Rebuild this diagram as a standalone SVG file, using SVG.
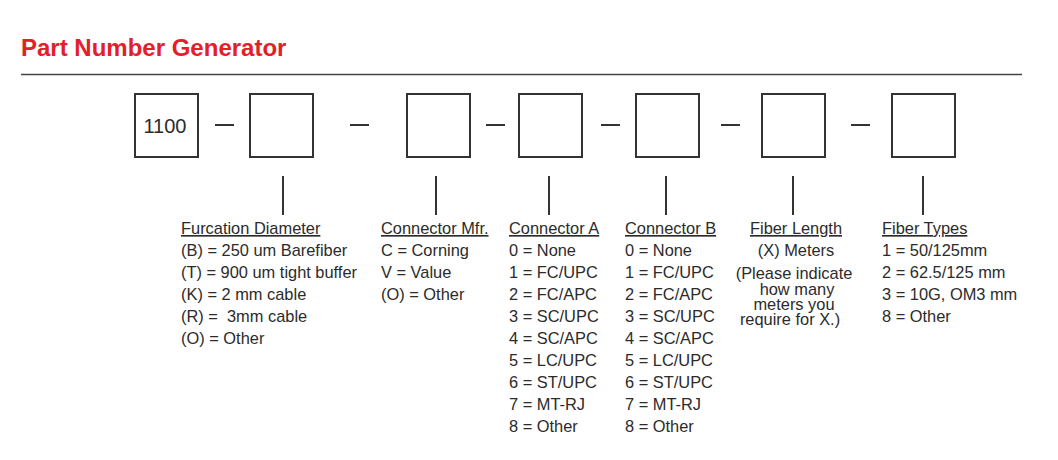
<svg xmlns="http://www.w3.org/2000/svg" width="1058" height="460" viewBox="0 0 1058 460">
<style>
.title{font-family:"Liberation Sans",Arial,sans-serif;font-weight:bold;font-size:24px;fill:#E3202A}
.box{fill:#fff;stroke:#333;stroke-width:2}
.ln{stroke:#333;stroke-width:2;fill:none}
.rule{stroke:#444;stroke-width:1.3}
.t{font-family:"Liberation Sans",Arial,sans-serif;font-size:16.4px;fill:#2b2b2b}
.h{text-decoration:underline}
.big{font-family:"Liberation Sans",Arial,sans-serif;font-size:20px;fill:#2b2b2b}
.c{text-anchor:middle}
</style>
<rect width="1058" height="460" fill="#fff"/>
<text class="title" x="21" y="56">Part Number Generator</text>
<line class="rule" x1="21" y1="74.5" x2="1022" y2="74.5"/>

<g id="connectors">
<line class="ln" x1="215" y1="125" x2="234" y2="125"/>
<line class="ln" x1="350" y1="125" x2="369" y2="125"/>
<line class="ln" x1="486" y1="125" x2="505" y2="125"/>
<line class="ln" x1="601" y1="125" x2="620" y2="125"/>
<line class="ln" x1="721" y1="125" x2="740" y2="125"/>
<line class="ln" x1="851" y1="125" x2="870" y2="125"/>
<line class="ln" x1="283" y1="176" x2="283" y2="215"/>
<line class="ln" x1="436" y1="176" x2="436" y2="215"/>
<line class="ln" x1="549" y1="176" x2="549" y2="215"/>
<line class="ln" x1="666" y1="176" x2="666" y2="215"/>
<line class="ln" x1="793" y1="176" x2="793" y2="215"/>
<line class="ln" x1="923" y1="176" x2="923" y2="215"/>
</g>

<g id="node-prefix">
<rect class="box" x="135" y="94" width="63" height="63"/>
<text class="big c" x="165" y="133">1100</text>
</g>

<g id="node-furcation">
<rect class="box" x="250" y="94" width="63" height="63"/>
<text class="t h" x="181" y="234">Furcation Diameter</text>
<text class="t" x="181" y="256">(B) = 250 um Barefiber</text>
<text class="t" x="181" y="278">(T) = 900 um tight buffer</text>
<text class="t" x="181" y="300">(K) = 2 mm cable</text>
<text class="t" x="181" y="322" xml:space="preserve">(R) =  3mm cable</text>
<text class="t" x="181" y="344">(O) = Other</text>
</g>

<g id="node-connector-mfr">
<rect class="box" x="407" y="94" width="63" height="63"/>
<text class="t h" x="381" y="234">Connector Mfr.</text>
<text class="t" x="381" y="256">C = Corning</text>
<text class="t" x="381" y="278">V = Value</text>
<text class="t" x="381" y="300">(O) = Other</text>
</g>

<g id="node-connector-a">
<rect class="box" x="519" y="94" width="63" height="63"/>
<text class="t h" x="509" y="234">Connector A</text>
<text class="t" x="509" y="256">0 = None</text>
<text class="t" x="509" y="278">1 = FC/UPC</text>
<text class="t" x="509" y="300">2 = FC/APC</text>
<text class="t" x="509" y="322">3 = SC/UPC</text>
<text class="t" x="509" y="344">4 = SC/APC</text>
<text class="t" x="509" y="366">5 = LC/UPC</text>
<text class="t" x="509" y="388">6 = ST/UPC</text>
<text class="t" x="509" y="410">7 = MT-RJ</text>
<text class="t" x="509" y="432">8 = Other</text>
</g>

<g id="node-connector-b">
<rect class="box" x="636" y="94" width="63" height="63"/>
<text class="t h" x="625" y="234">Connector B</text>
<text class="t" x="625" y="256">0 = None</text>
<text class="t" x="625" y="278">1 = FC/UPC</text>
<text class="t" x="625" y="300">2 = FC/APC</text>
<text class="t" x="625" y="322">3 = SC/UPC</text>
<text class="t" x="625" y="344">4 = SC/APC</text>
<text class="t" x="625" y="366">5 = LC/UPC</text>
<text class="t" x="625" y="388">6 = ST/UPC</text>
<text class="t" x="625" y="410">7 = MT-RJ</text>
<text class="t" x="625" y="432">8 = Other</text>
</g>

<g id="node-fiber-length">
<rect class="box" x="762" y="94" width="63" height="63"/>
<text class="t h c" x="796" y="234">Fiber Length</text>
<text class="t c" x="796" y="256">(X) Meters</text>
<text class="t c" x="794" y="279">(Please indicate</text>
<text class="t c" x="797" y="294.5">how many</text>
<text class="t c" x="794" y="309.5">meters you</text>
<text class="t c" x="790" y="324.5">require for X.)</text>
</g>

<g id="node-fiber-types">
<rect class="box" x="892" y="94" width="63" height="63"/>
<text class="t h" x="882" y="234">Fiber Types</text>
<text class="t" x="882" y="256">1 = 50/125mm</text>
<text class="t" x="882" y="278">2 = 62.5/125 mm</text>
<text class="t" x="882" y="300">3 = 10G, OM3 mm</text>
<text class="t" x="882" y="322">8 = Other</text>
</g>
</svg>
